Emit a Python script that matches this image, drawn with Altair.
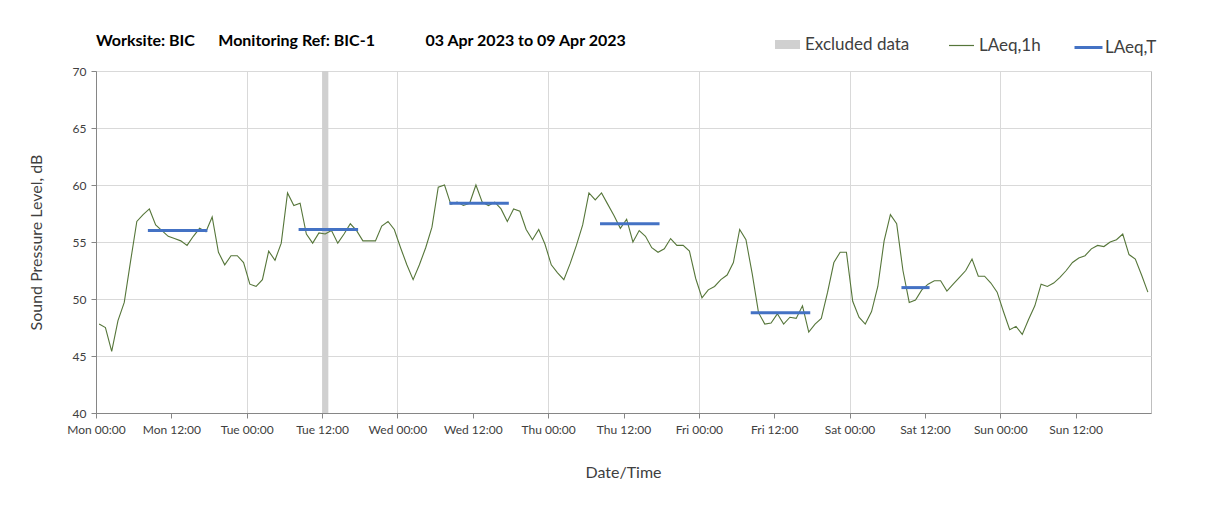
import altair as alt
import pandas as pd

# ---------------- data ----------------
laeq_1h = [
    47.8, 47.5, 45.4, 48.1, 49.7, 53.3, 56.8, 57.4, 57.9, 56.5, 56.0, 55.5,
    55.3, 55.1, 54.7, 55.5, 56.2, 55.9, 57.2, 54.1, 53.0, 53.8, 53.8, 53.2,
    51.3, 51.1, 51.7, 54.2, 53.4, 54.9, 59.3, 58.2, 58.4, 55.7, 54.9, 55.8,
    55.7, 56.0, 54.9, 55.7, 56.6, 56.0, 55.1, 55.1, 55.1, 56.4, 56.8, 56.1,
    54.5, 53.0, 51.7, 53.0, 54.5, 56.3, 59.8, 60.0, 58.3, 58.5, 58.2, 58.4,
    60.0, 58.5, 58.2, 58.5, 57.9, 56.8, 57.9, 57.7, 56.1, 55.2, 56.1, 54.8,
    53.0, 52.3, 51.7, 53.1, 54.7, 56.5, 59.3, 58.7, 59.3, 58.3, 57.3, 56.2,
    57.0, 55.0, 56.0, 55.5, 54.5, 54.1, 54.4, 55.3, 54.7, 54.7, 54.2, 51.8,
    50.1, 50.8, 51.1, 51.7, 52.1, 53.2, 56.1, 55.2, 52.2, 48.8, 47.8, 47.9,
    48.7, 47.8, 48.4, 48.3, 49.4, 47.1, 47.8, 48.3, 50.6, 53.2, 54.1, 54.1,
    49.8, 48.4, 47.8, 48.9, 51.1, 55.1, 57.4, 56.6, 52.5, 49.7, 49.9, 50.8,
    51.3, 51.6, 51.6, 50.7, 51.3, 51.9, 52.5, 53.5, 52.0, 52.0, 51.4, 50.6,
    48.9, 47.3, 47.6, 46.9, 48.2, 49.4, 51.3, 51.1, 51.4, 51.9, 52.5, 53.2,
    53.6, 53.8, 54.4, 54.7, 54.6, 55.0, 55.2, 55.7, 53.9, 53.5, 52.1, 50.6,
]
# hourly category index of each value (plotted mid-category)
hour_index = list(range(len(laeq_1h)))

# LAeq,T periods (first and last hourly category) and level
period_start = [8, 32, 56, 80, 104, 128]
period_end = [17, 41, 65, 89, 113, 132]
period_level = [56.0, 56.1, 58.4, 56.6, 48.8, 51.0]

# excluded data (hours)
excluded_start = [36]
excluded_end = [37]

tick_hours = [0, 12, 24, 36, 48, 60, 72, 84, 96, 108, 120, 132, 144, 156]
tick_labels = ["Mon 00:00", "Mon 12:00", "Tue 00:00", "Tue 12:00",
               "Wed 00:00", "Wed 12:00", "Thu 00:00", "Thu 12:00",
               "Fri 00:00", "Fri 12:00", "Sat 00:00", "Sat 12:00",
               "Sun 00:00", "Sun 12:00"]

y_min, y_max = 40, 70

NB = "\u00a0"
title_text = ("Worksite: BIC" + NB * 6 + "Monitoring Ref: BIC-1" + NB * 13
              + "03 Apr 2023 to 09 Apr 2023")

# ---------------- tables ----------------
df_line = pd.DataFrame({"hour": [h + 0.5 for h in hour_index],
                        "level": laeq_1h, "series": "LAeq,1h"})
df_T = pd.DataFrame({"start": [s + 0.5 for s in period_start],
                     "end": [e + 0.5 for e in period_end],
                     "level": period_level, "series": "LAeq,T"})
df_ex = pd.DataFrame({"start": excluded_start, "end": excluded_end,
                      "lo": [y_min], "hi": [y_max], "series": "Excluded data"})

FONT = "Lato"
GREEN = "#56763a"
BLUE = "#4472c4"
GREY = "#d0d0d0"
AXIS_GREY = "#868686"
TEXT = "#404040"

label_js = "[" + ",".join("'%s'" % t for t in tick_labels) + "]"

x_scale = alt.Scale(domain=[0, 168], nice=False, zero=False)
y_scale = alt.Scale(domain=[y_min, y_max], nice=False, zero=False)

axis_common = dict(
    labelFont=FONT, labelFontSize=12, labelColor=TEXT,
    titleFont=FONT, titleFontSize=16, titleFontWeight="normal", titleColor=TEXT,
    domainColor=AXIS_GREY, tickColor=AXIS_GREY, tickSize=5,
    gridColor="#d9d9d9", gridWidth=1,
)

x_axis = alt.Axis(
    values=tick_hours,
    labelExpr=label_js + "[round(datum.value/12)]",
    labelFlush=False, labelOverlap=False,
    title="Date/Time",
    titleX=527, titleY=59, titleBaseline="middle", titleAnchor="middle",
    gridOpacity={"condition": {"test": "datum.value % 24 === 0", "value": 1}, "value": 0},
    labelPadding=6,
    **axis_common,
)
y_axis = alt.Axis(
    values=[40, 45, 50, 55, 60, 65, 70],
    title="Sound Pressure Level, dB",
    titleX=-60, titleY=171, titleBaseline="middle", titleAnchor="middle",
    labelPadding=5,
    **axis_common,
)

legend_common = dict(orient="none", title=None, padding=0, labelFont=FONT,
                     labelFontSize=17, labelColor=TEXT)

excl = alt.Chart(df_ex).mark_rect().encode(
    x=alt.X("start:Q", scale=x_scale, axis=x_axis),
    x2="end:Q",
    y=alt.Y("lo:Q", scale=y_scale, axis=y_axis),
    y2="hi:Q",
    color=alt.Color("series:N", scale=alt.Scale(range=[GREY]),
                    legend=alt.Legend(legendX=679, legendY=-39,
                                      symbolType="M-1,-0.36H1V0.36H-1Z",
                                      symbolSize=625, symbolStrokeWidth=0,
                                      labelOffset=5, **legend_common)),
)

line = alt.Chart(df_line).mark_line(strokeWidth=1.1).encode(
    x=alt.X("hour:Q", scale=x_scale, axis=x_axis),
    y=alt.Y("level:Q", scale=y_scale, axis=y_axis),
    color=alt.Color("series:N", scale=alt.Scale(range=[GREEN]),
                    legend=alt.Legend(legendX=852, legendY=-39,
                                      symbolType="stroke", symbolSize=625,
                                      symbolStrokeWidth=1.2, labelOffset=4,
                                      **legend_common)),
)

rules = alt.Chart(df_T).mark_rule(strokeWidth=3, strokeCap="square").encode(
    x=alt.X("start:Q", scale=x_scale, axis=x_axis),
    x2="end:Q",
    y=alt.Y("level:Q", scale=y_scale, axis=y_axis),
    color=alt.Color("series:N", scale=alt.Scale(range=[BLUE]),
                    legend=alt.Legend(legendX=977, legendY=-39,
                                      symbolType="stroke", symbolSize=784,
                                      symbolStrokeWidth=3, labelOffset=1,
                                      **legend_common)),
)

chart = (
    alt.layer(excl, line, rules)
    .resolve_scale(color="independent")
    .resolve_legend(color="independent")
    .properties(
        width=1055, height=342,
        background="white",
        autosize=alt.AutoSizeParams(type="none"),
        padding={"left": 88, "top": 63, "right": 49, "bottom": 88},
        title=alt.TitleParams(title_text, anchor="start", frame="group",
                              font=FONT, fontSize=16, fontWeight="bold",
                              color="#000000", offset=24, dy=41),
    )
    .configure_view(stroke="#bfbfbf", strokeWidth=1)
)

chart.save("out.html", embed_options={"renderer": "svg", "actions": False})
